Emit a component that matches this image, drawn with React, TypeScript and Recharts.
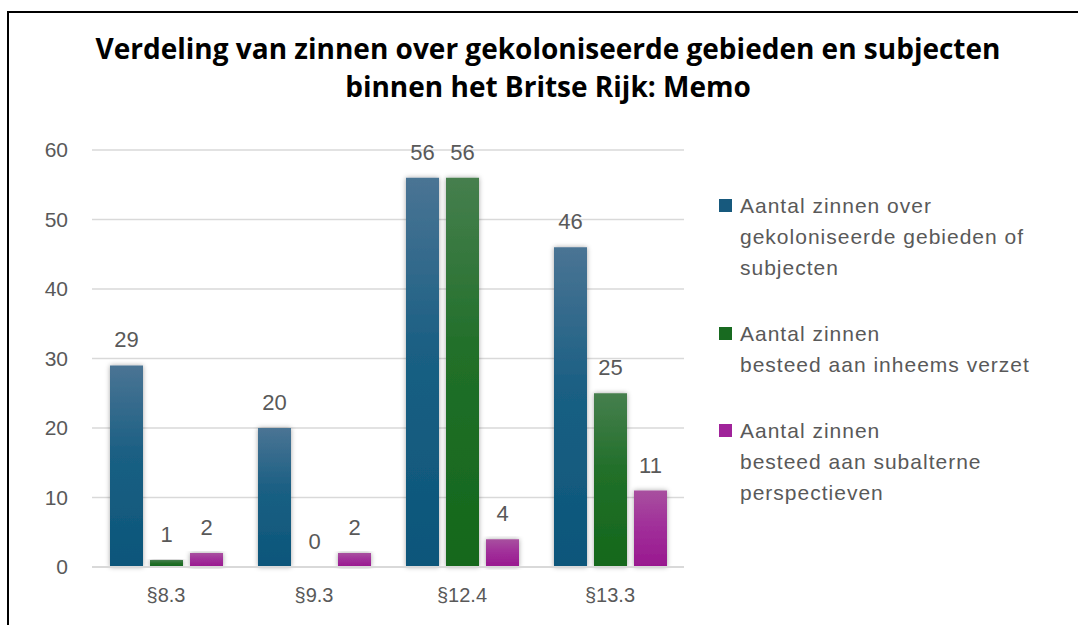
import React from 'react';
import { BarChart, Bar, XAxis, YAxis, CartesianGrid, LabelList } from 'recharts';

const categories = ['§8.3', '§9.3', '§12.4', '§13.3'];
const gebieden = [29, 20, 56, 46];
const verzet = [1, 0, 56, 25];
const subaltern = [2, 2, 4, 11];
const yTicks = [0, 10, 20, 30, 40, 50, 60];

const seriesNames = [
    ['Aantal zinnen over', 'gekoloniseerde gebieden of', 'subjecten'],
    ['Aantal zinnen', 'besteed aan inheems verzet'],
    ['Aantal zinnen', 'besteed aan subalterne', 'perspectieven'],
];
const seriesColors = ['#17597d', '#186a20', '#a0239a'];

const data = categories.map((c, i) => ({
    name: c,
    gebieden: gebieden[i],
    verzet: verzet[i],
    subaltern: subaltern[i],
}));

const labelStyle = { fill: '#595959', fontSize: 22, fontFamily: 'Liberation Sans, Arial, sans-serif' };

function LegendBox() {
    return (
        <div style={{ position: 'absolute', left: 719, top: 190, width: 340, fontFamily: 'Liberation Sans, Arial, sans-serif', fontSize: 21, color: '#595959', letterSpacing: 1 }}>
            {seriesNames.map((lines, i) => (
                <div key={i} style={{ position: 'relative', paddingLeft: 21, marginBottom: 35, lineHeight: '31px' }}>
                    <span style={{ position: 'absolute', left: 0, top: 9, width: 13, height: 13, background: seriesColors[i] }} />
                    {lines.map((l, j) => <div key={j}>{l}</div>)}
                </div>
            ))}
        </div>
    );
}

export default function App() {
    return (
        <div style={{ position: 'absolute', left: 0, top: 0, width: 1078, height: 625, background: '#fff', overflow: 'hidden' }}>
            <div style={{ position: 'absolute', left: 7, top: 11, width: 1100, height: 700, borderLeft: '2px solid #000', borderTop: '2px solid #000' }} />
            <div style={{ position: 'absolute', left: 40, top: 29, width: 1016, textAlign: 'center', fontFamily: 'Open Sans, sans-serif', fontWeight: 700, fontSize: 28, lineHeight: '38px', color: '#000' }}>
                Verdeling van zinnen over gekoloniseerde gebieden en subjecten<br />binnen het Britse Rijk: Memo
            </div>
            <div style={{ position: 'absolute', left: 0, top: 0 }}>
                <BarChart width={1078} height={625} data={data} margin={{ top: 150, right: 394, bottom: 28, left: 32 }} barSize={33} barGap={7}>
                    <defs>
                        <linearGradient id="gBlue" x1="0" y1="0" x2="0" y2="1">
                            <stop offset="0%" stopColor="#4a7494" />
                            <stop offset="45%" stopColor="#1a5f83" />
                            <stop offset="100%" stopColor="#0b567a" />
                        </linearGradient>
                        <linearGradient id="gGreen" x1="0" y1="0" x2="0" y2="1">
                            <stop offset="0%" stopColor="#467f4e" />
                            <stop offset="45%" stopColor="#216f29" />
                            <stop offset="100%" stopColor="#14681b" />
                        </linearGradient>
                        <linearGradient id="gPink" x1="0" y1="0" x2="0" y2="1">
                            <stop offset="0%" stopColor="#a8509f" />
                            <stop offset="45%" stopColor="#a1309a" />
                            <stop offset="100%" stopColor="#99188f" />
                        </linearGradient>
                        <filter id="shadow" x="-30%" y="-10%" width="160%" height="120%">
                            <feDropShadow dx="0" dy="0" stdDeviation="2.5" floodColor="#000" floodOpacity="0.35" />
                        </filter>
                    </defs>
                    <CartesianGrid vertical={false} stroke="#d9d9d9" strokeWidth={1.5} />
                    <XAxis dataKey="name" axisLine={{ stroke: '#d9d9d9', strokeWidth: 2 }} tickLine={false} tickMargin={15}
                        tick={{ fill: '#595959', fontSize: 20, fontFamily: 'Liberation Sans, Arial, sans-serif' }} />
                    <YAxis domain={[0, 60]} ticks={yTicks} axisLine={false} tickLine={false} width={60} tickMargin={18}
                        tick={{ fill: '#595959', fontSize: 21, fontFamily: 'Liberation Sans, Arial, sans-serif' }} />
                    <Bar dataKey="gebieden" fill="url(#gBlue)" filter="url(#shadow)" isAnimationActive={false}>
                        <LabelList dataKey="gebieden" position="top" offset={18} style={labelStyle} />
                    </Bar>
                    <Bar dataKey="verzet" fill="url(#gGreen)" filter="url(#shadow)" minPointSize={0.3} isAnimationActive={false}>
                        <LabelList dataKey="verzet" position="top" offset={18} style={labelStyle} />
                    </Bar>
                    <Bar dataKey="subaltern" fill="url(#gPink)" filter="url(#shadow)" isAnimationActive={false}>
                        <LabelList dataKey="subaltern" position="top" offset={18} style={labelStyle} />
                    </Bar>
                </BarChart>
            </div>
            <LegendBox />
        </div>
    );
}
